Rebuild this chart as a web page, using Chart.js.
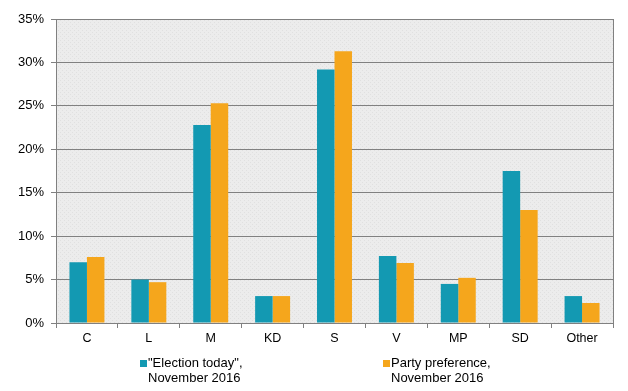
<!DOCTYPE html>
<html>
<head>
<meta charset="utf-8">
<script src="https://cdn.jsdelivr.net/npm/chart.js@4"></script>
<style>
  html, body { margin: 0; padding: 0; background: #fff; }
  #wrap { width: 628px; height: 391px; }
</style>
</head>
<body>
<div id="wrap"><canvas id="chartParties"></canvas></div>
<script>
const parties = ['C', 'L', 'M', 'KD', 'S', 'V', 'MP', 'SD', 'Other']
const electionToday = [7.0, 5.0, 22.8, 3.1, 29.2, 7.7, 4.5, 17.5, 3.1]
const partyPreference = [7.6, 4.7, 25.3, 3.1, 31.3, 6.9, 5.2, 13.0, 2.3]
const seriesLabels = [['"Election today",', 'November 2016'], ['Party preference,', 'November 2016']]
const seriesColors = ['#1399B2', '#F5A61C']

const FONT = 'Liberation Sans, Arial, sans-serif'

// dotted grey background for the plot area
function makePattern() {
    const c = document.createElement('canvas')
    c.width = 4
    c.height = 4
    const g = c.getContext('2d')
    g.fillStyle = '#ECECEC'
    g.fillRect(0, 0, 4, 4)
    g.fillStyle = '#E0E0E0'
    g.fillRect(0, 0, 1, 1)
    g.fillRect(2, 2, 1, 1)
    return g.createPattern(c, 'repeat')
}

const plotBackground = {
    id: 'plotBackground',
    beforeDraw(chart) {
        const { ctx, chartArea: a } = chart
        ctx.save()
        ctx.fillStyle = makePattern()
        ctx.fillRect(a.left, a.top, a.right - a.left, a.bottom - a.top)
        ctx.restore()
    },
    afterDatasetsDraw(chart) {
        const { ctx, chartArea: a } = chart
        ctx.save()
        ctx.strokeStyle = '#808080'
        ctx.lineWidth = 1
        ctx.beginPath()
        ctx.moveTo(Math.round(a.right) + 0.5, a.top)
        ctx.lineTo(Math.round(a.right) + 0.5, a.bottom)
        ctx.stroke()
        ctx.restore()
    }
}

// two-line legend under the x axis
const twoLineLegend = {
    id: 'twoLineLegend',
    afterDraw(chart) {
        const ctx = chart.ctx
        const xs = [140, 383]
        ctx.save()
        ctx.font = '13px ' + FONT
        ctx.textBaseline = 'middle'
        chart.data.datasets.forEach((ds, i) => {
            ctx.fillStyle = ds.backgroundColor
            ctx.fillRect(xs[i], 360, 7, 7)
            ctx.fillStyle = '#000'
            ds.label.forEach((line, j) => {
                ctx.fillText(line, xs[i] + 8, 363 + j * 15)
            })
        })
        ctx.restore()
    }
}

new Chart(document.getElementById('chartParties'), {
    type: 'bar',
    data: {
        labels: parties,
        datasets: [{
            label: seriesLabels[0],
            data: electionToday,
            backgroundColor: seriesColors[0],
            categoryPercentage: 0.565,
            barPercentage: 1
        }, {
            label: seriesLabels[1],
            data: partyPreference,
            backgroundColor: seriesColors[1],
            categoryPercentage: 0.565,
            barPercentage: 1
        }]
    },
    options: {
        responsive: true,
        maintainAspectRatio: false,
        animation: false,
        layout: { padding: { top: 19, right: 15, left: 0, bottom: 0 } },
        plugins: {
            legend: { display: false },
            tooltip: { enabled: false }
        },
        scales: {
            x: {
                afterFit: s => { s.height = 68 },
                grid: {
                    offset: true,
                    drawOnChartArea: false,
                    tickLength: 5,
                    color: '#808080'
                },
                border: { color: '#808080' },
                ticks: {
                    color: '#000',
                    padding: 3,
                    font: { family: FONT, size: 12.5 }
                }
            },
            y: {
                min: 0,
                max: 35,
                afterFit: s => { s.width = 56 },
                grid: {
                    color: '#808080',
                    tickLength: 5
                },
                border: { color: '#808080' },
                ticks: {
                    stepSize: 5,
                    color: '#000',
                    padding: 7,
                    font: { family: FONT, size: 13 },
                    callback: v => v + '%'
                }
            }
        }
    },
    plugins: [plotBackground, twoLineLegend]
})
</script>
</body>
</html>
